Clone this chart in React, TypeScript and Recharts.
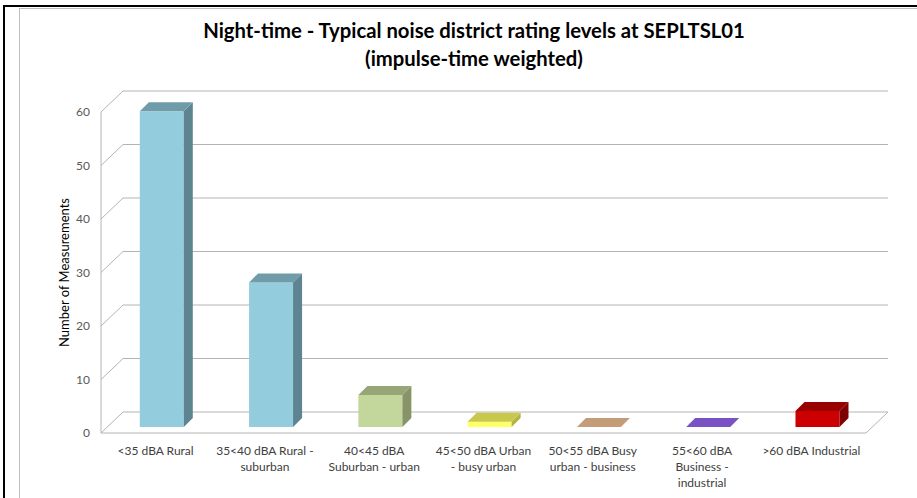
import { BarChart, Bar, XAxis, YAxis, CartesianGrid, Label } from 'recharts';

const categories = [
  '<35 dBA Rural',
  '35<40 dBA Rural -\nsuburban',
  '40<45 dBA\nSuburban - urban',
  '45<50 dBA Urban\n- busy urban',
  '50<55 dBA Busy\nurban - business',
  '55<60 dBA\nBusiness  -\nindustrial',
  '>60 dBA Industrial',
];
const measurements = [59, 27, 6, 1, 0, 0, 3];
const yTicks = [0, 10, 20, 30, 40, 50, 60];

// front / top / side shades for each bar
const palette = [
  { front: '#93CDDD', top: '#6F9CA8', side: '#5D8490' },
  { front: '#93CDDD', top: '#6F9CA8', side: '#5D8490' },
  { front: '#C3D69B', top: '#97A676', side: '#879468' },
  { front: '#FFFF66', top: '#C8C84C', side: '#B3B342' },
  { front: '#C89E7A', top: '#C59C78', side: '#A07E60' },
  { front: '#7B52C4', top: '#7B52C4', side: '#5E3E98' },
  { front: '#CC0000', top: '#990000', side: '#7F0000' },
];

const data = categories.map((name, i) => ({ name, value: measurements[i] }));

const W = 917;
const H = 498;
const PLOT_TOP = 112;
const PLOT_BOTTOM = 433;
// wall depth (front plane -> back wall)
const DX = 22;
const DY = -21;
// bars sit a little behind the front plane
const SHIFT_X = 6;
const SHIFT_Y = -6;
const BAR_DX = 9;
const BAR_DY = -9;
const GRID = '#B4B4B4';
const FONT = 'Lato, "Open Sans", sans-serif';

function gridLine(props: any) {
  const { x1, x2, y1, key } = props;
  const isFloor = Math.abs(y1 - PLOT_BOTTOM) < 1;
  return (
    <g key={key}>
      <line x1={x1} y1={y1} x2={x1 + DX} y2={y1 + DY} stroke={GRID} />
      <line x1={x1 + DX} y1={y1 + DY} x2={x2 + DX} y2={y1 + DY} stroke={GRID} />
      {isFloor && <line x1={x2} y1={y1} x2={x2 + DX} y2={y1 + DY} stroke={GRID} />}
    </g>
  );
}

function Bar3D(props: any) {
  const { x, y, width, height, index } = props;
  const c = palette[index];
  const h = Math.max(height || 0, 0);
  const fx = x + SHIFT_X;
  const fy = y + SHIFT_Y;
  const top = `${fx},${fy} ${fx + width},${fy} ${fx + width + BAR_DX},${fy + BAR_DY} ${fx + BAR_DX},${fy + BAR_DY}`;
  const side = `${fx + width},${fy} ${fx + width + BAR_DX},${fy + BAR_DY} ${fx + width + BAR_DX},${fy + h + BAR_DY} ${fx + width},${fy + h}`;
  return (
    <g>
      {h > 0 && <rect x={fx} y={fy} width={width} height={h} fill={c.front} />}
      {h > 0 && <polygon points={side} fill={c.side} />}
      <polygon points={top} fill={c.top} />
    </g>
  );
}

function CategoryTick(props: any) {
  const { x, y, payload } = props;
  const lines = String(payload.value).split('\n');
  return (
    <text x={x} y={y} textAnchor="middle" fill="#404040" fontSize={12} fontFamily={FONT}>
      {lines.map((l, i) => (
        <tspan key={i} x={x} dy={i === 0 ? 14 : 16}>
          {l}
        </tspan>
      ))}
    </text>
  );
}

export default function App() {
  return (
    <div style={{ position: 'absolute', left: 0, top: 0, width: W, height: H, background: '#fff', overflow: 'hidden' }}>
      <div style={{ position: 'absolute', left: 3, top: 5, width: W, height: 2, background: '#000' }} />
      <div style={{ position: 'absolute', left: 3, top: 5, width: 2, height: H, background: '#000' }} />
      <div
        style={{
          position: 'absolute',
          left: 19,
          top: 8,
          width: W,
          height: H,
          borderLeft: '1px solid #BFBFBF',
          borderTop: '1px solid #BFBFBF',
        }}
      />
      <div
        style={{
          position: 'absolute',
          left: 0,
          top: 16,
          width: 948,
          textAlign: 'center',
          fontFamily: FONT,
          fontWeight: 700,
          fontSize: 20.3,
          lineHeight: '28px',
          color: '#000',
        }}
      >
        Night-time - Typical noise district rating levels at SEPLTSL01
        <br />
        (impulse-time weighted)
      </div>
      <div style={{ position: 'absolute', left: 0, top: 0 }}>
        <BarChart
          width={W}
          height={H}
          data={data}
          margin={{ top: PLOT_TOP, right: 51, bottom: 5, left: 0 }}
          barCategoryGap="30%"
        >
          <CartesianGrid vertical={false} horizontal={gridLine} />
          <XAxis
            dataKey="name"
            height={H - PLOT_BOTTOM - 5}
            interval={0}
            axisLine={{ stroke: GRID }}
            tickLine={false}
            tick={<CategoryTick />}
          />
          <YAxis
            width={101}
            domain={[0, 60]}
            ticks={yTicks}
            axisLine={{ stroke: GRID }}
            tickLine={false}
            tickMargin={5}
            tick={{ fill: '#595959', fontSize: 12, fontFamily: FONT }}
          >
            <Label
              value="Number of Measurements"
              angle={-90}
              position="center"
              dx={14}
              fill="#000"
              fontSize={13}
              fontFamily={FONT}
            />
          </YAxis>
          <Bar dataKey="value" shape={<Bar3D />} isAnimationActive={false} />
        </BarChart>
      </div>
    </div>
  );
}
